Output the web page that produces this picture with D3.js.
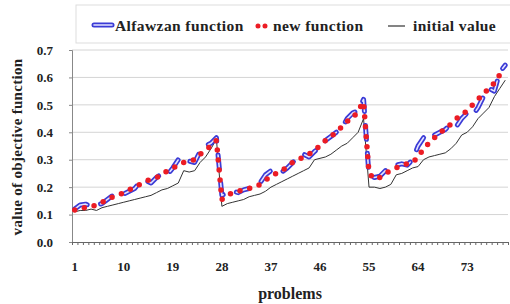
<!DOCTYPE html>
<html>
<head>
<meta charset="utf-8">
<script src="https://cdn.jsdelivr.net/npm/d3@7/dist/d3.min.js"></script>
<style>
body { margin: 0; background: #fff; }
</style>
</head>
<body>
<div id="chart"></div>
<script>
// chart values
let problems = d3.range(1, 81);
let alfawzan = [0.12,0.135,0.138,0.13,0.135,0.14,0.155,0.17,0.18,0.175,
  0.185,0.195,0.22,0.225,0.215,0.235,0.25,0.245,0.27,0.30,
  0.31,0.295,0.29,0.33,0.35,0.36,0.38,0.17,0.18,0.185,
  0.18,0.19,0.195,0.20,0.215,0.245,0.26,0.25,0.255,0.27,
  0.29,0.31,0.32,0.31,0.33,0.345,0.37,0.385,0.40,0.415,
  0.45,0.47,0.48,0.52,0.24,0.235,0.24,0.26,0.275,0.28,
  0.285,0.28,0.30,0.35,0.38,0.40,0.39,0.40,0.41,0.43,
  0.42,0.45,0.47,0.46,0.49,0.53,0.56,0.55,0.62,0.645];
let newFunction = [0.117,0.125,0.125,0.128,0.135,0.145,0.153,0.165,0.17,0.18,
  0.19,0.20,0.21,0.22,0.23,0.235,0.245,0.26,0.27,0.28,
  0.29,0.295,0.30,0.32,0.335,0.35,0.37,0.155,0.17,0.18,
  0.185,0.19,0.195,0.20,0.21,0.225,0.24,0.25,0.26,0.275,
  0.29,0.30,0.31,0.32,0.335,0.35,0.37,0.385,0.40,0.42,
  0.44,0.45,0.48,0.51,0.25,0.23,0.235,0.25,0.26,0.27,
  0.28,0.285,0.29,0.31,0.34,0.36,0.38,0.40,0.41,0.43,
  0.45,0.46,0.48,0.50,0.52,0.54,0.56,0.58,0.61,0.63];
let initialValue = [0.11,0.115,0.115,0.12,0.115,0.125,0.13,0.135,0.14,0.145,
  0.15,0.155,0.16,0.165,0.17,0.18,0.19,0.195,0.205,0.215,
  0.26,0.255,0.26,0.29,0.31,0.34,0.375,0.13,0.14,0.145,
  0.15,0.155,0.165,0.17,0.175,0.185,0.20,0.21,0.22,0.23,
  0.24,0.25,0.26,0.27,0.30,0.305,0.31,0.32,0.335,0.35,
  0.36,0.38,0.40,0.45,0.20,0.20,0.195,0.20,0.21,0.245,
  0.25,0.26,0.27,0.275,0.30,0.31,0.315,0.32,0.325,0.34,
  0.36,0.39,0.40,0.42,0.45,0.47,0.49,0.53,0.56,0.59];
let yTicks = [0, 0.1, 0.2, 0.3, 0.4, 0.5, 0.6, 0.7];
let xTickLabels = [1, 10, 19, 28, 37, 46, 55, 64, 73];
let seriesNames = ["Alfawzan function", "new function", "initial value"];

let w = 510, h = 304;
let pLeft = 72, pRight = 508, pTop = 50, pBottom = 242;
let serif = "'Liberation Serif', 'Times New Roman', Times, serif";

let svg = d3.select("#chart").append("svg").attr("width", w).attr("height", h);

let x = d3.scaleBand().domain(problems).range([pLeft, pRight]).padding(0);
let xEdge = d3.scaleLinear().domain([0, problems.length]).range([pLeft, pRight]);
let y = d3.scaleLinear().domain([0, 0.7]).range([pBottom, pTop]);

/* gridlines */
svg.append("g")
  .selectAll("line").data(yTicks.slice(1)).join("line")
  .attr("x1", pLeft).attr("x2", pRight)
  .attr("y1", d => y(d)).attr("y2", d => y(d))
  .style("stroke", "#d4d4d4").style("stroke-width", 1);

/* y axis */
let yAxis = svg.append("g").attr("transform", "translate(" + pLeft + ",0)")
  .call(d3.axisLeft(y).tickValues(yTicks).tickFormat(d3.format(".1f")).tickSize(3).tickPadding(16));
yAxis.select(".domain").style("stroke", "#888");
yAxis.selectAll(".tick line").style("stroke", "#888");

/* x axis: small ticks between categories, labels every 9 */
let xMinor = svg.append("g").attr("transform", "translate(0," + pBottom + ")")
  .call(d3.axisBottom(xEdge).tickValues(d3.range(0, problems.length + 1)).tickFormat("").tickSize(3).tickSizeOuter(0));
xMinor.select(".domain").style("stroke", "#666");
xMinor.selectAll(".tick line").style("stroke", "#666");

let xLab = svg.append("g").attr("transform", "translate(0," + pBottom + ")")
  .call(d3.axisBottom(x).tickValues(xTickLabels).tickSize(0).tickPadding(20));
xLab.select(".domain").remove();

svg.selectAll(".tick text")
  .attr("font-family", null)
  .style("font-family", serif).style("font-weight", "bold")
  .style("font-size", "13px").style("fill", "#222");

/* axis titles */
svg.append("text")
  .attr("transform", "translate(22," + ((pTop + pBottom) / 2 + 1) + ") rotate(-90)")
  .attr("text-anchor", "middle")
  .style("font-family", serif).style("font-weight", "bold")
  .style("font-size", "15px").style("letter-spacing", "0.3px").style("fill", "#222")
  .text("value of objective function");
svg.append("text")
  .attr("x", (pLeft + pRight) / 2).attr("y", 299)
  .attr("text-anchor", "middle")
  .style("font-family", serif).style("font-weight", "bold")
  .style("font-size", "16px").style("fill", "#222")
  .text("problems");

/* series */
let line = d3.line().x((d, i) => x(problems[i]) + x.bandwidth() / 2).y(d => y(d));

svg.append("path").datum(initialValue)
  .attr("d", line).style("fill", "none")
  .style("stroke", "#333").style("stroke-width", 1);

// Alfawzan: outlined long dashes
svg.append("path").datum(alfawzan)
  .attr("d", line).style("fill", "none")
  .style("stroke", "#3b3bd6").style("stroke-width", 5)
  .style("stroke-linecap", "round").style("stroke-linejoin", "round")
  .style("stroke-dasharray", "14,14");
svg.append("path").datum(alfawzan)
  .attr("d", line).style("fill", "none")
  .style("stroke", "#e4e4ff").style("stroke-width", 1.6)
  .style("stroke-linecap", "round").style("stroke-linejoin", "round")
  .style("stroke-dasharray", "14,14");

// new function: round dots
svg.append("path").datum(newFunction)
  .attr("d", line).style("fill", "none")
  .style("stroke", "#ec1c24").style("stroke-width", 5.5)
  .style("stroke-linecap", "round").style("stroke-linejoin", "round")
  .style("stroke-dasharray", "0,10");

/* legend */
let lg = svg.append("g");
lg.append("rect").attr("x", 76).attr("y", 5).attr("width", 440).attr("height", 38)
  .style("fill", "#fff").style("stroke", "#ddd");
lg.append("line").attr("x1", 94).attr("x2", 112).attr("y1", 25).attr("y2", 25)
  .style("stroke", "#3b3bd6").style("stroke-width", 5).style("stroke-linecap", "round");
lg.append("line").attr("x1", 94).attr("x2", 112).attr("y1", 25).attr("y2", 25)
  .style("stroke", "#e4e4ff").style("stroke-width", 1.6).style("stroke-linecap", "round");
lg.append("line").attr("x1", 258).attr("x2", 266).attr("y1", 26).attr("y2", 26)
  .style("stroke", "#ec1c24").style("stroke-width", 5).style("stroke-linecap", "round")
  .style("stroke-dasharray", "0,7");
lg.append("line").attr("x1", 388).attr("x2", 405).attr("y1", 26).attr("y2", 26)
  .style("stroke", "#333").style("stroke-width", 1.2);
let legendX = [115, 273, 413];
lg.selectAll("text.lab").data(seriesNames).join("text")
  .attr("class", "lab")
  .attr("x", (d, i) => legendX[i]).attr("y", 31)
  .style("font-family", serif).style("font-weight", "bold")
  .style("font-size", "15.5px").style("letter-spacing", "0.4px").style("fill", "#222")
  .text(d => d);
</script>
</body>
</html>
